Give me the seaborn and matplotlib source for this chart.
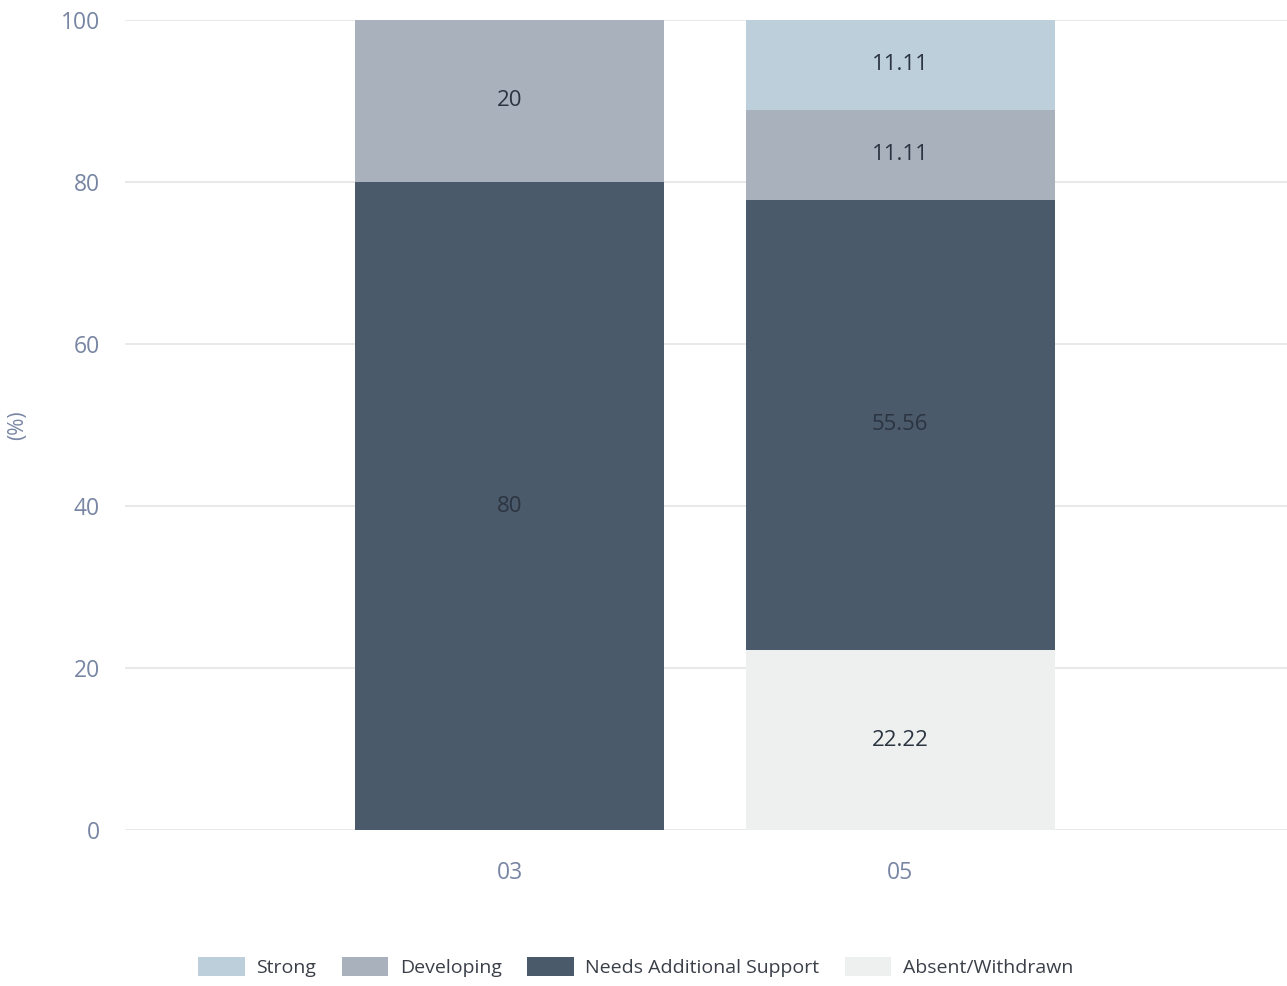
import matplotlib
matplotlib.use("Agg")
import matplotlib.pyplot as plt
import matplotlib.patches as mpatches
import numpy as np
import seaborn as sns

# Data
categories = ["03", "05"]
series_names = ["Absent/Withdrawn", "Needs Additional Support", "Developing", "Strong"]
absent = [0, 22.22]
needs = [80, 55.56]
developing = [20, 11.11]
strong = [0, 11.11]
legend_order = ["Strong", "Developing", "Needs Additional Support", "Absent/Withdrawn"]

colors = {
    "Strong": "#bccfdb",
    "Developing": "#a9b1bd",
    "Needs Additional Support": "#4b5a6b",
    "Absent/Withdrawn": "#eef0f0",
}

sns.set_theme(style="white")
plt.rcParams["font.family"] = ["Open Sans", "DejaVu Sans"]

fig = plt.figure(figsize=(12.87, 9.86), dpi=100)
ax = fig.add_axes([0.097, 0.158, 0.903, 0.822])

tick_color = "#7886a4"
label_color = "#2b3440"

values = [absent, needs, developing, strong]
bottom = np.zeros(len(categories))
for name, vals in zip(series_names, values):
    vals = np.array(vals, dtype=float)
    sns.barplot(x=categories, y=vals, bottom=bottom, color=colors[name],
                width=0.79, ax=ax, saturation=1, zorder=2, linewidth=0)
    for i, v in enumerate(vals):
        if v > 0:
            txt = f"{v:g}"
            ax.text(i, bottom[i] + v / 2, txt, ha="center", va="center",
                    fontsize=16, color=label_color, zorder=3)
    bottom = bottom + vals

ax.set_xlim(-0.985, 1.99)
ax.set_ylim(0, 100)
ax.set_yticks(np.arange(0, 101, 20))
ax.yaxis.grid(True, color="#e9e9e9", linewidth=1.5, zorder=0)
ax.xaxis.grid(False)
for s in ax.spines.values():
    s.set_visible(False)
ax.tick_params(axis="both", length=0, labelsize=16.5, colors=tick_color, pad=18)
ax.tick_params(axis="x", pad=22)
ax.set_xlabel("")
ax.set_ylabel("(%)", fontsize=15, color=tick_color)
ax.yaxis.set_label_coords(-0.083, 0.5)

handles = [mpatches.Patch(facecolor=colors[n], edgecolor="none", label=n) for n in legend_order]
fig.legend(handles=handles, loc="center", bbox_to_anchor=(0.494, 0.019), ncol=4,
           frameon=False, fontsize=14, handlelength=2.4, handleheight=1.1,
           columnspacing=1.3, handletextpad=0.6, labelcolor="#3a3f48")

fig.savefig("out.png", dpi=100)
